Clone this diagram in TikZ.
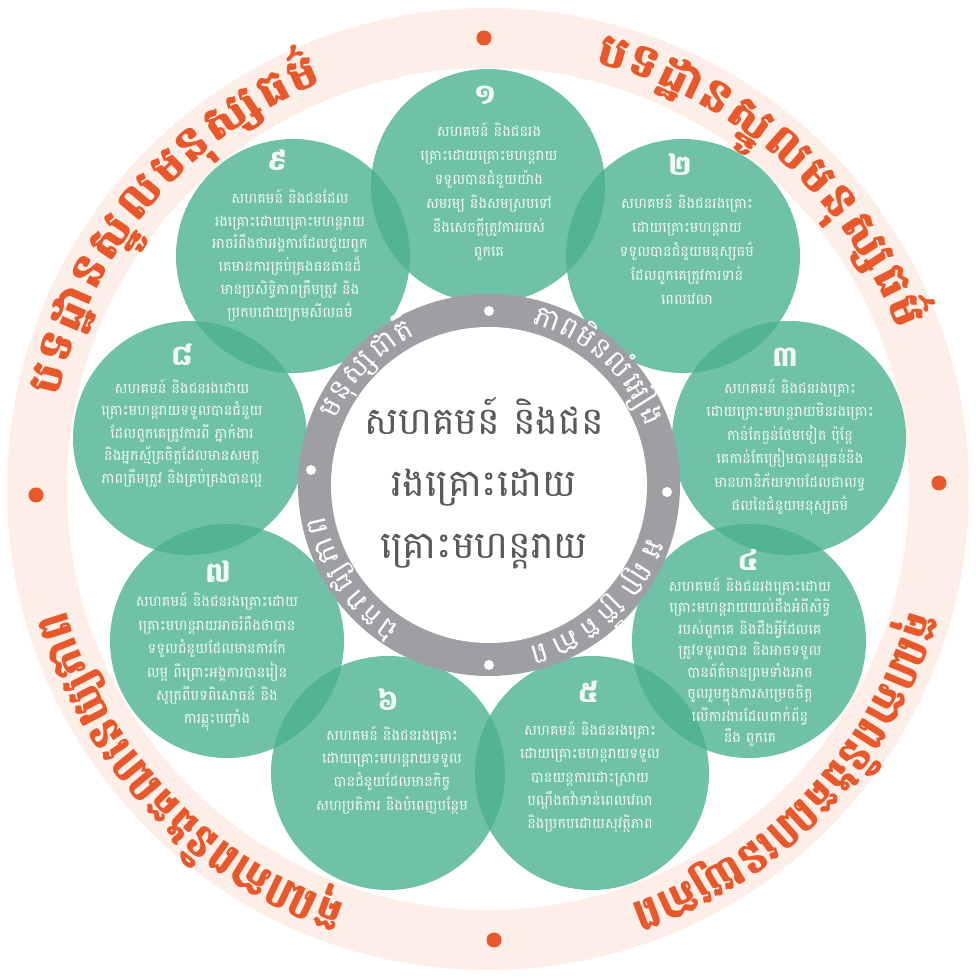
\documentclass[tikz,border=0pt]{standalone}
\usepackage{fontspec}
\usepackage{graphicx}
\newfontfamily\khm[Script=Khmer]{Battambang}
\usetikzlibrary{calc}
\definecolor{pale}{RGB}{253,239,231}
\definecolor{orng}{RGB}{232,88,42}
\definecolor{grn}{RGB}{75,177,145}
\definecolor{ringgray}{RGB}{158,159,163}
\definecolor{ctext}{RGB}{88,89,91}
\definecolor{wtext}{RGB}{242,248,245}
\newlength\clw
\newdimen\totw
\newdimen\cumw
\newsavebox\clbox
\newcommand\gfont{\khm\fontsize{29}{29}\selectfont}
\newcommand\ofont{\khm\bfseries\fontsize{46}{46}\selectfont}
% measure the clusters of a list outside the picture: #1 key, #2 font, #3 list
\newcommand\measurearc[3]{%
  \global\totw=0pt
  \foreach \cl [count=\i] in {#3}{%
    \sbox\clbox{#2\cl}%
    \global\advance\totw by \wd\clbox
    \expandafter\xdef\csname arcw#1\i\endcsname{\the\wd\clbox}}%
  \ifdim\totw<1pt \global\totw=1pt\fi
  \expandafter\xdef\csname arct#1\endcsname{\the\totw}}
% place the clusters: #1 key, #2 font, #3 style, #4 radius, #5 a0, #6 a1, #7 rotation offset, #8 list
\newcommand\arcwords[8]{%
  \global\cumw=0pt
  \setlength\totw{\csname arct#1\endcsname}%
  \pgfmathsetmacro\arcL{#4*(abs(#6-#5)*pi/180)}%
  \pgfmathsetmacro\sqz{min(1,\arcL/\totw)}%
  \foreach \cl [count=\i] in {#8}{%
    \setlength\clw{\csname arcw#1\i\endcsname}%
    \setlength\totw{\csname arct#1\endcsname}%
    \pgfmathsetmacro\th{#5+(#6-#5)*((\cumw+0.5*\clw)/\totw)}%
    \node[#3, rotate=\th+#7] (#1\i) at ({#4*cos(\th)},{#4*sin(\th)}) {\scalebox{\sqz}[1]{#2\cl}};%
    \global\advance\cumw by \clw
  }%
}
\tikzset{
  gdisk/.style={circle, inner sep=0pt, minimum size=234pt, fill=grn, fill opacity=0.8, draw=none},
  num/.style={text=wtext, font=\khm\bfseries\fontsize{28}{30}\selectfont, inner sep=0pt},
  ctxt/.style={text=wtext, align=center, inner sep=0pt},
  odot/.style={circle, fill=orng, inner sep=0pt, minimum size=15pt},
  wdot/.style={circle, fill=white, inner sep=0pt, minimum size=10pt},
  otxt/.style={text=orng, inner sep=0pt, anchor=base},
  gtxt/.style={text=white, inner sep=0pt, anchor=base},
}
\begin{document}
\measurearc{ga}{\gfont}{ម,នុ,ស្ស,ជា,តិ}%
\measurearc{gb}{\gfont}{ភា,ព,មិ,ន,លំ,អៀ,ង}%
\measurearc{gc}{\gfont}{អ,ព្យា,ក្រឹ,ត,ភា,ព}%
\measurearc{gd}{\gfont}{ឯ,ក,រា,ជ្យ,ភា,ព}%
\measurearc{oa}{\ofont}{ប,ទ,ដ្ឋា,ន,ស្នូ,ល,ម,នុ,ស្ស,ធ,ម៌}%
\measurearc{ob}{\ofont}{ប,ទ,ដ្ឋា,ន,ស្នូ,ល,ម,នុ,ស្ស,ធ,ម៌}%
\measurearc{oc}{\ofont}{គុ,ណ,ភា,ព,និ,ង,គ,ណ,នេ,យ្យ,ភា,ព}%
\measurearc{od}{\ofont}{គុ,ណ,ភា,ព,និ,ង,គ,ណ,នេ,យ្យ,ភា,ព}%
\begin{tikzpicture}[x=1pt,y=1pt]
\useasboundingbox (0,0) rectangle (975,977);
% outer pale ring
\fill[pale, even odd rule] (488,488) circle (481) (488,488) circle (421);
\node[odot] (d1) at (484,939) {};
\node[odot] (d2) at (36,482) {};
\node[odot] (d3) at (939,494) {};
\node[odot] (d4) at (494,37) {};
% green disks
\node[gdisk] (c1) at (488,791) {};
\node[gdisk] (c2) at (683,721) {};
\node[gdisk] (c3) at (789,539) {};
\node[gdisk] (c4) at (749,336) {};
\node[gdisk] (c5) at (592,204) {};
\node[gdisk] (c6) at (388,204) {};
\node[gdisk] (c7) at (227,336) {};
\node[gdisk] (c8) at (190,539) {};
\node[gdisk] (c9) at (293,721) {};
% gray ring
\node[circle, fill=ringgray, inner sep=0pt, minimum size=382pt] (gring) at (489,492) {};
\node[circle, fill=white, inner sep=0pt, minimum size=316pt] (inner) at (489,492) {};
\node[wdot] (w1) at (489,666) {};
\node[wdot] (w2) at (667,485) {};
\node[wdot] (w3) at (489,312) {};
\node[wdot] (w4) at (311,507) {};
% center text
\node[text=ctext, align=center, inner sep=0pt, font=\khm\fontsize{38}{62}\selectfont] (ctr) at (484,494)
  {សហគមន៍ និងជន\\រងគ្រោះដោយ\\គ្រោះមហន្តរាយ};
% numbers
\node[num] (n1) at (485,882) {១};
\node[num] (n2) at (680,812) {២};
\node[num] (n3) at (785,620) {៣};
\node[num] (n4) at (748,417) {៤};
\node[num] (n5) at (588,285) {៥};
\node[num] (n6) at (388,277) {៦};
\node[num] (n7) at (218,405) {៧};
\node[num] (n8) at (182,622) {៨};
\node[num] (n9) at (277,817) {៩};
% circle texts
\node[ctxt, font=\khm\fontsize{14.5}{24}\selectfont] (t1) at (489,786) {សហគមន៍ និងជនរង\\គ្រោះដោយគ្រោះមហន្តរាយ\\ទទួលបានជំនួយយ៉ាង\\សមរម្យ និងសមស្របទៅ\\នឹងសេចក្តីត្រូវការរបស់\\ពួកគេ};
\node[ctxt, font=\khm\fontsize{14.5}{24}\selectfont] (t2) at (687,728) {សហគមន៍ និងជនរងគ្រោះ\\ដោយគ្រោះមហន្តរាយ\\ទទួលបានជំនួយមនុស្សធម៌\\ដែលពួកគេត្រូវការទាន់\\ពេលវេលា};
\node[ctxt, font=\khm\fontsize{14.5}{23.5}\selectfont] (t3) at (790,530) {សហគមន៍ និងជនរងគ្រោះ\\ដោយគ្រោះមហន្តរាយមិនរងគ្រោះ\\កាន់តែធ្ងន់ថែមទៀត ប៉ុន្តែ\\គេកាន់តែត្រៀមបានល្អធន់និង\\មានហានិភ័យទាបដែលជាលទ្ធ\\ផលនៃជំនួយមនុស្សធម៌};
\node[ctxt, font=\khm\fontsize{14.5}{21.5}\selectfont] (t4) at (750,315) {សហគមន៍ និងជនរងគ្រោះដោយ\\គ្រោះមហន្តរាយយល់ដឹងអំពីសិទ្ធិ\\របស់ពួកគេ និងដឹងអ្វីដែលគេ\\ត្រូវទទួលបាន និងអាចទទួល\\បានព័ត៌មានព្រមទាំងអាច\\ចូលរួមក្នុងការសម្រេចចិត្ត\\លើការងារដែលពាក់ព័ន្ធ\\នឹង ពួកគេ};
\node[ctxt, font=\khm\fontsize{14.5}{23.3}\selectfont] (t5) at (590,200) {សហគមន៍ និងជនរងគ្រោះ\\ដោយគ្រោះមហន្តរាយទទួល\\បានយន្តការដោះស្រាយ\\បណ្តឹងតវ៉ាទាន់ពេលវេលា\\និងប្រកបដោយសុវត្ថិភាព};
\node[ctxt, font=\khm\fontsize{14.5}{23.3}\selectfont] (t6) at (392,207) {សហគមន៍ និងជនរងគ្រោះ\\ដោយគ្រោះមហន្តរាយទទួល\\បានជំនួយដែលមានកិច្ច\\សហប្រតិការ និងបំពេញបន្ថែម};
\node[ctxt, font=\khm\fontsize{14.5}{23.4}\selectfont] (t7) at (217,315) {សហគមន៍ និងជនរងគ្រោះដោយ\\គ្រោះមហន្តរាយអាចរំពឹងថាបាន\\ទទួលជំនួយដែលមានការកែ\\លម្អ ពីព្រោះអង្គការបានរៀន\\សូត្រពីបទពិសោធន៍ និង\\ការឆ្លុះបញ្ចាំង};
\node[ctxt, font=\khm\fontsize{14.5}{22.5}\selectfont] (t8) at (182,544) {សហគមន៍ និងជនរងដោយ\\គ្រោះមហន្តរាយទទួលបានជំនួយ\\ដែលពួកគេត្រូវការពី ភ្នាក់ងារ\\និងអ្នកស្ម័គ្រចិត្តដែលមានសមត្ថ\\ភាពត្រឹមត្រូវ និងគ្រប់គ្រងបានល្អ};
\node[ctxt, font=\khm\fontsize{14.5}{22.8}\selectfont] (t9) at (290,722) {សហគមន៍  និងជនដែល\\រងគ្រោះដោយគ្រោះមហន្តរាយ\\អាចរំពឹងថាអង្គការដែលជួយពួក\\គេមានការគ្រប់គ្រងធនធានដ៏\\មានប្រសិទ្ធិភាពត្រឹមត្រូវ និង\\ប្រកបដោយក្រមសីលធម៌};
% gray ring words
\begin{scope}[shift={(489,492)}]
\arcwords{ga}{\gfont}{gtxt}{167}{157}{116}{-90}{ម,នុ,ស្ស,ជា,តិ}
\arcwords{gb}{\gfont}{gtxt}{167}{75}{20}{-90}{ភា,ព,មិ,ន,លំ,អៀ,ង}
\arcwords{gc}{\gfont}{gtxt}{167}{-18}{-77}{-90}{អ,ព្យា,ក្រឹ,ត,ភា,ព}
\arcwords{gd}{\gfont}{gtxt}{167}{238}{190}{-90}{ឯ,ក,រា,ជ្យ,ភា,ព}
\end{scope}
% orange ring words
\begin{scope}[shift={(488,488)}]
\arcwords{oa}{\ofont}{otxt}{439}{168}{112}{-90}{ប,ទ,ដ្ឋា,ន,ស្នូ,ល,ម,នុ,ស្ស,ធ,ម៌}
\arcwords{ob}{\ofont}{otxt}{439}{76}{21}{-90}{ប,ទ,ដ្ឋា,ន,ស្នូ,ល,ម,នុ,ស្ស,ធ,ម៌}
\arcwords{oc}{\ofont}{otxt}{439}{251}{196}{-90}{គុ,ណ,ភា,ព,និ,ង,គ,ណ,នេ,យ្យ,ភា,ព}
\arcwords{od}{\ofont}{otxt}{439}{344}{289}{-90}{គុ,ណ,ភា,ព,និ,ង,គ,ណ,នេ,យ្យ,ភា,ព}
\end{scope}
\end{tikzpicture}
\end{document}
